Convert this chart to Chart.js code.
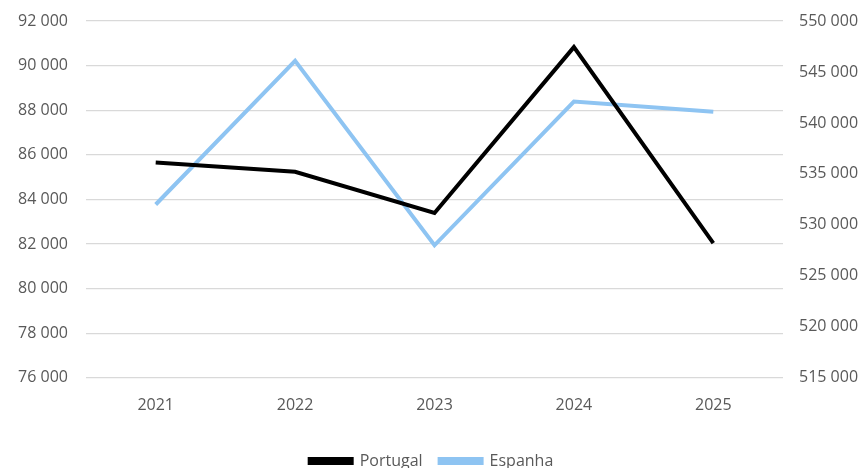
<!DOCTYPE html>
<html>
<head>
<meta charset="utf-8">
<script src="https://cdn.jsdelivr.net/npm/chart.js@4.4.1/dist/chart.umd.min.js"></script>
<style>
  html, body { margin: 0; padding: 0; background: #fff; }
  #wrap { width: 863px; height: 468px; }
</style>
</head>
<body>
<div id="wrap"><canvas id="chart"></canvas></div>
<script>
// dados
const years = ['2021', '2022', '2023', '2024', '2025'];
const portugal = [85650, 85240, 83390, 90830, 82040];
const espanha = [532000, 546100, 528000, 542100, 541100];

const leftTicks = { min: 76000, max: 92000, step: 2000 };
const rightTicks = { min: 515000, max: 550000, step: 5000 };

const labelColor = '#595959';
const gridColor = '#d9d9d9';
const font = { family: 'Open Sans', size: 16 };

function fmt(v) {
    return String(v).replace(/\B(?=(\d{3})+(?!\d))/g, ' ');
}

// largura fixa dos eixos verticais, sem folga extra em cima/baixo
function fixY(width) {
    return axis => {
        axis.width = width;
        axis.paddingTop = 0;
        axis.paddingBottom = 0;
    };
}

new Chart(document.getElementById('chart'), {
    type: 'line',
    data: {
        labels: years,
        datasets: [
            {
                label: 'Portugal',
                data: portugal,
                yAxisID: 'y',
                borderColor: '#000000',
                backgroundColor: '#000000',
                borderWidth: 4,
                pointRadius: 0,
                tension: 0
            },
            {
                label: 'Espanha',
                data: espanha,
                yAxisID: 'y1',
                borderColor: '#8ec4f2',
                backgroundColor: '#8ec4f2',
                borderWidth: 4,
                pointRadius: 0,
                tension: 0
            }
        ]
    },
    options: {
        responsive: true,
        maintainAspectRatio: false,
        animation: false,
        layout: { padding: { left: 0, right: 0, top: 21, bottom: -11 } },
        plugins: {
            tooltip: { enabled: false },
            legend: {
                position: 'bottom',
                labels: {
                    color: labelColor,
                    font: font,
                    boxWidth: 42,
                    boxHeight: 4,
                    padding: 17
                }
            }
        },
        scales: {
            x: {
                offset: true,
                grid: { display: false },
                border: { display: false },
                ticks: { color: labelColor, font: font, padding: 10 },
                afterFit: axis => { axis.height += 11; }
            },
            y: {
                position: 'left',
                min: leftTicks.min,
                max: leftTicks.max,
                grid: { color: gridColor, lineWidth: 1.3, drawTicks: false },
                border: { display: false },
                ticks: {
                    stepSize: leftTicks.step,
                    color: labelColor,
                    font: font,
                    padding: 18,
                    callback: v => fmt(v)
                },
                afterFit: fixY(86)
            },
            y1: {
                position: 'right',
                min: rightTicks.min,
                max: rightTicks.max,
                grid: { display: false, drawTicks: false },
                border: { display: false },
                ticks: {
                    stepSize: rightTicks.step,
                    color: labelColor,
                    font: font,
                    padding: 16,
                    callback: v => fmt(v)
                },
                afterFit: fixY(80)
            }
        }
    }
});
</script>
</body>
</html>
